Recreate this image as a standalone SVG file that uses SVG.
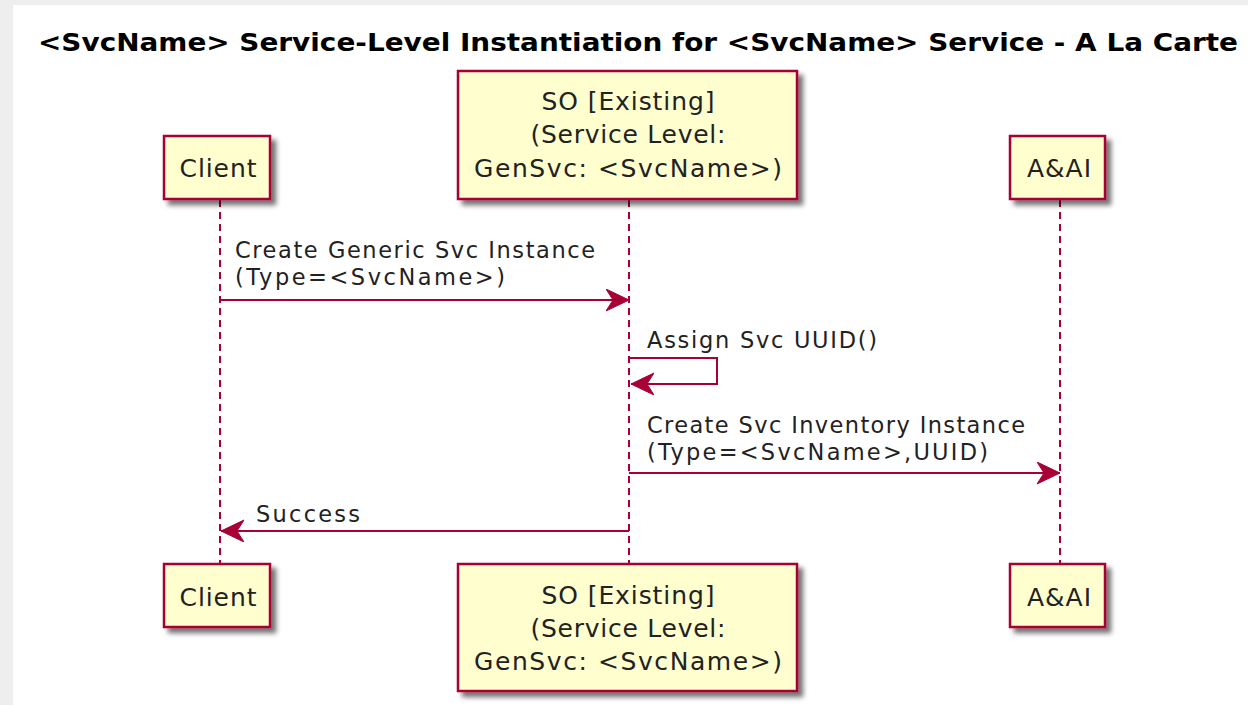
<svg xmlns="http://www.w3.org/2000/svg" width="1248" height="705" viewBox="0 0 1248 705">
<defs>
<filter id="sh" x="-20%" y="-20%" width="150%" height="150%">
<feGaussianBlur in="SourceAlpha" stdDeviation="2.5" result="b"/>
<feOffset dx="5" dy="5" in="b" result="o"/>
<feComponentTransfer in="o" result="c"><feFuncA type="linear" slope="0.55"/></feComponentTransfer>
<feMerge><feMergeNode in="c"/><feMergeNode in="SourceGraphic"/></feMerge>
</filter>
<marker id="ah" markerUnits="userSpaceOnUse" markerWidth="26" markerHeight="26" refX="23" refY="11" orient="auto">
<path d="M0,0 L23,11 L0,22 L7,11 Z" fill="#A80036" stroke="#A80036" stroke-width="1" stroke-linejoin="miter"/>
</marker>
<style>
.box{fill:#FEFECE;stroke:#A80036;stroke-width:2.5;filter:url(#sh)}
.life{stroke:#A80036;stroke-width:2;stroke-dasharray:7,5;fill:none}
.msg{stroke:#A80036;stroke-width:2;fill:none}
.pt{font-family:"DejaVu Sans","Liberation Sans",sans-serif;font-size:25px;fill:#222;text-anchor:middle}
.mt{font-family:"DejaVu Sans","Liberation Sans",sans-serif;font-size:22.5px;fill:#222}
.title{font-family:"DejaVu Sans","Liberation Sans",sans-serif;font-size:25px;font-weight:bold;fill:#000}
</style>
</defs>
<rect x="0" y="0" width="1248" height="705" fill="#EEEEEE"/>
<rect x="13" y="5" width="1235" height="700" fill="#FFFFFF"/>
<text class="title" x="38" y="51" textLength="1200" lengthAdjust="spacingAndGlyphs">&lt;SvcName&gt; Service-Level Instantiation for &lt;SvcName&gt; Service - A La Carte</text>

<g id="lifelines">
<line class="life" x1="220" y1="200" x2="220" y2="564"/>
<line class="life" x1="629" y1="200" x2="629" y2="564"/>
<line class="life" x1="1060" y1="200" x2="1060" y2="564"/>
</g>

<g id="client-top">
<rect class="box" x="164" y="136" width="106" height="63"/>
<text class="pt" x="218" y="177" textLength="77" lengthAdjust="spacing">Client</text>
</g>
<g id="so-top">
<rect class="box" x="458" y="71" width="339" height="128"/>
<text class="pt" x="628" y="110" textLength="173" lengthAdjust="spacing">SO [Existing]</text>
<text class="pt" x="628" y="143" textLength="195" lengthAdjust="spacing">(Service Level:</text>
<text class="pt" x="628" y="177" textLength="308" lengthAdjust="spacing">GenSvc: &lt;SvcName&gt;)</text>
</g>
<g id="aai-top">
<rect class="box" x="1010" y="136" width="95" height="63"/>
<text class="pt" x="1059" y="177" textLength="64" lengthAdjust="spacing">A&amp;AI</text>
</g>

<g id="client-bottom">
<rect class="box" x="164" y="564" width="106" height="63"/>
<text class="pt" x="218" y="606" textLength="77" lengthAdjust="spacing">Client</text>
</g>
<g id="so-bottom">
<rect class="box" x="458" y="564" width="339" height="127"/>
<text class="pt" x="628" y="604" textLength="173" lengthAdjust="spacing">SO [Existing]</text>
<text class="pt" x="628" y="637" textLength="195" lengthAdjust="spacing">(Service Level:</text>
<text class="pt" x="628" y="670" textLength="308" lengthAdjust="spacing">GenSvc: &lt;SvcName&gt;)</text>
</g>
<g id="aai-bottom">
<rect class="box" x="1010" y="564" width="95" height="63"/>
<text class="pt" x="1059" y="606" textLength="64" lengthAdjust="spacing">A&amp;AI</text>
</g>

<g id="connectors">
<line class="msg" x1="220" y1="300" x2="629" y2="300" marker-end="url(#ah)"/>
<text class="mt" x="235" y="258" textLength="360" lengthAdjust="spacing">Create Generic Svc Instance</text>
<text class="mt" x="235" y="285" textLength="270" lengthAdjust="spacing">(Type=&lt;SvcName&gt;)</text>

<polyline class="msg" points="629,358 717,358 717,384 631,384" marker-end="url(#ah)"/>
<text class="mt" x="647" y="348" textLength="230" lengthAdjust="spacing">Assign Svc UUID()</text>

<line class="msg" x1="629" y1="473" x2="1060" y2="473" marker-end="url(#ah)"/>
<text class="mt" x="647" y="433" textLength="378" lengthAdjust="spacing">Create Svc Inventory Instance</text>
<text class="mt" x="647" y="460" textLength="341" lengthAdjust="spacing">(Type=&lt;SvcName&gt;,UUID)</text>

<line class="msg" x1="629" y1="531" x2="221" y2="531" marker-end="url(#ah)"/>
<text class="mt" x="256" y="522" textLength="104" lengthAdjust="spacing">Success</text>
</g>
</svg>
